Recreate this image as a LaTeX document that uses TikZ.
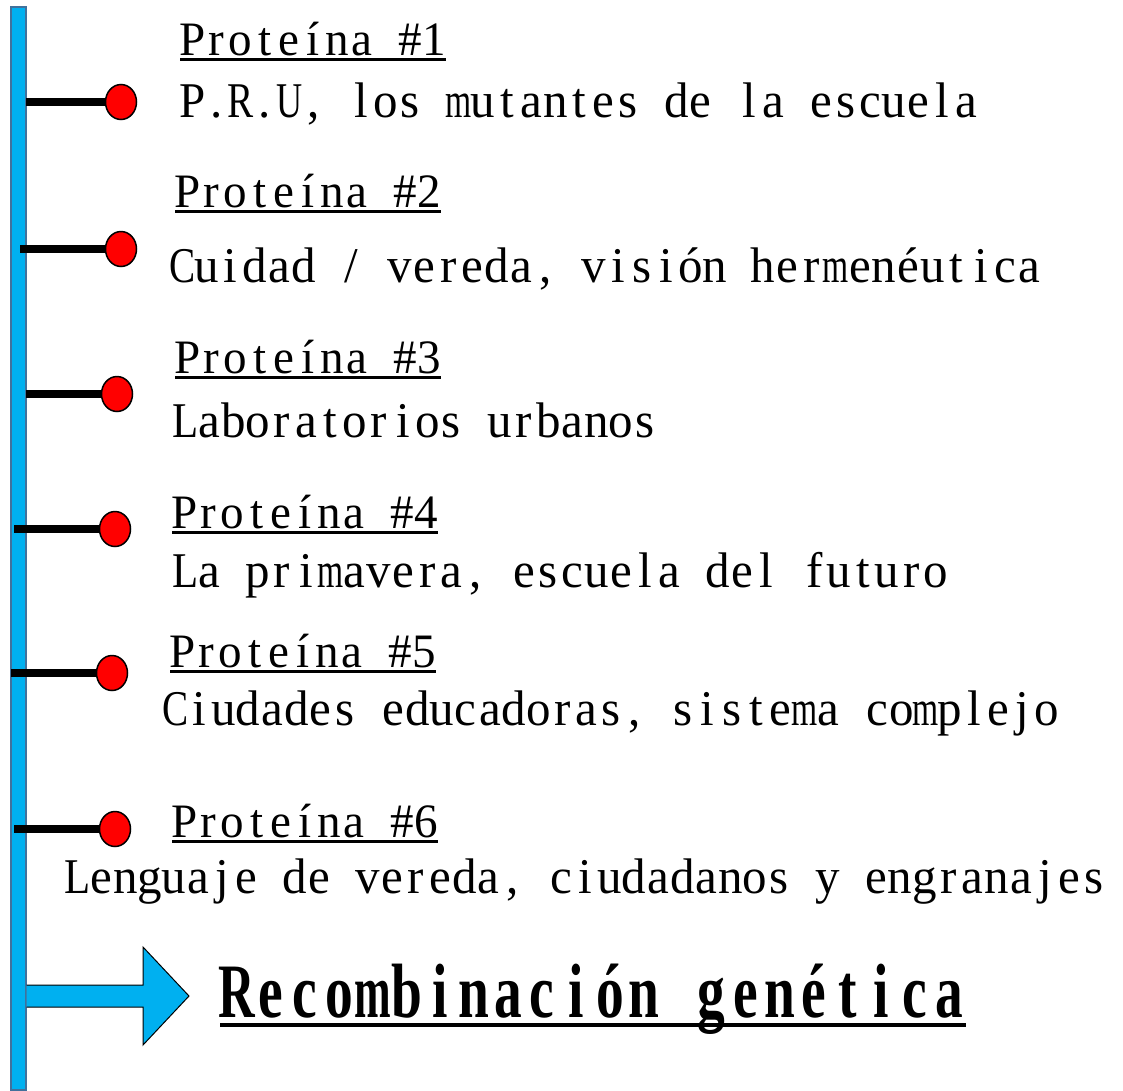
\documentclass[tikz,border=0pt]{standalone}
\usepackage{fontspec}
\usepackage{xcolor}
\usepackage{tikz}
\usetikzlibrary{shapes.geometric, positioning}
\newfontfamily\protfont[FakeStretch=0.98]{Liberation Serif}
\newfontfamily\recofont[FakeStretch=0.72]{Liberation Serif}
\definecolor{barblue}{HTML}{00B0F0}
\definecolor{baredge}{HTML}{41719C}
\newcommand{\ulin}[3]{\setbox0=\hbox{#3}\rlap{\rule[-#1]{\wd0}{#2}}\box0}

% fixed-width cells, one per character
\ExplSyntaxOn
\seq_new:N \l__cell_words_seq
\bool_new:N \l__cell_first_bool
\box_new:N \l__cell_glyph_box
\dim_new:N \l__cell_wd_dim
\cs_new_protected:Npn \__cell_one:n #1
  {
    \hbox_set:Nn \l__cell_glyph_box {#1}
    \dim_compare:nNnT { \box_wd:N \l__cell_glyph_box } > { 1.08\l__cell_wd_dim }
      {
        \box_scale:Nnn \l__cell_glyph_box
          { 1.08 * \dim_to_fp:n { \l__cell_wd_dim } / \dim_to_fp:n { \box_wd:N \l__cell_glyph_box } }
          { 1 }
      }
    \hbox_to_wd:nn { \l__cell_wd_dim } { \hss \box_use:N \l__cell_glyph_box \hss }
  }
\NewDocumentCommand{\cells}{O{24.2pt} m}
  {
    \dim_set:Nn \l__cell_wd_dim {#1}
    \seq_set_split:Nnn \l__cell_words_seq { ~ } {#2}
    \bool_set_true:N \l__cell_first_bool
    \seq_map_inline:Nn \l__cell_words_seq
      {
        \bool_if:NF \l__cell_first_bool { \hbox_to_wd:nn { \l__cell_wd_dim } { } }
        \bool_set_false:N \l__cell_first_bool
        \tl_map_function:nN {##1} \__cell_one:n
      }
  }
\ExplSyntaxOff

\begin{document}
\begin{tikzpicture}[
    x=1pt, y=-1pt,
    every node/.style={inner sep=0pt, anchor=base west},
    title/.style={font=\protfont\fontsize{48}{56}\selectfont},
    desc/.style={font=\protfont\fontsize{50}{56}\selectfont},
    reco/.style={font=\recofont\bfseries\fontsize{77}{90}\selectfont},
    dot/.style={draw, ellipse, fill=red, line width=1.5pt, minimum width=31pt, minimum height=35pt, anchor=center},
    stem/.style={line width=8pt},
    bar/.style={draw=baredge, fill=barblue, line width=1.2pt, minimum width=15pt, minimum height=1083pt, anchor=center},
    bigarr/.style={draw=black, fill=barblue, line width=1pt}
  ]
  \useasboundingbox (0,0) rectangle (1123,1090);

  \node[bar] (bar) at (18.5,548.5) {};

  \node[dot] (dot1) at (121,102) {};
  \node[dot] (dot2) at (121,249) {};
  \node[dot] (dot3) at (117,394) {};
  \node[dot] (dot4) at (115,529) {};
  \node[dot] (dot5) at (112,673) {};
  \node[dot] (dot6) at (115,829) {};

  \coordinate (s1) at (26,102);
  \coordinate (s2) at (20,249);
  \coordinate (s3) at (26,394);
  \coordinate (s4) at (14,529);
  \coordinate (s5) at (11,673);
  \coordinate (s6) at (14,829);

  \draw[stem] (s1) -- (dot1);
  \draw[stem] (s2) -- (dot2);
  \draw[stem] (s3) -- (dot3);
  \draw[stem] (s4) -- (dot4);
  \draw[stem] (s5) -- (dot5);
  \draw[stem] (s6) -- (dot6);

  \node[title] (t1) at (180,55) {\ulin{5.5pt}{2.5pt}{\cells{Proteína \#1}}};
  \node[desc]  (d1) at (180,117) {\cells{P.R.U, los mutantes de la escuela}};
  \node[title] (t2) at (175,207) {\ulin{5.5pt}{2.5pt}{\cells{Proteína \#2}}};
  \node[desc]  (d2) at (170,282) {\cells{Cuidad / vereda, visión hermenéutica}};
  \node[title] (t3) at (175,373) {\ulin{5.5pt}{2.5pt}{\cells{Proteína \#3}}};
  \node[desc]  (d3) at (173,437) {\cells{Laboratorios urbanos}};
  \node[title] (t4) at (172,528) {\ulin{5.5pt}{2.5pt}{\cells{Proteína \#4}}};
  \node[desc]  (d4) at (173,587) {\cells{La primavera, escuela del futuro}};
  \node[title] (t5) at (170,667) {\ulin{5.5pt}{2.5pt}{\cells{Proteína \#5}}};
  \node[desc]  (d5) at (163,725) {\cells{Ciudades educadoras, sistema complejo}};
  \node[title] (t6) at (172,837) {\ulin{5.5pt}{2.5pt}{\cells{Proteína \#6}}};
  \node[desc]  (d6) at (65,893) {\cells{Lenguaje de vereda, ciudadanos y engranajes}};

  % block arrow to the result
  \draw[bigarr] (bar.east |- 0,985) -- (143,985) -- (143,947) -- (189,996)
    -- (143,1045) -- (143,1007) -- (bar.east |- 0,1007);
  \node[reco] (res) at (220,1017) {\ulin{10pt}{4pt}{\cells[33.9pt]{Recombinación genética}}};
\end{tikzpicture}
\end{document}
